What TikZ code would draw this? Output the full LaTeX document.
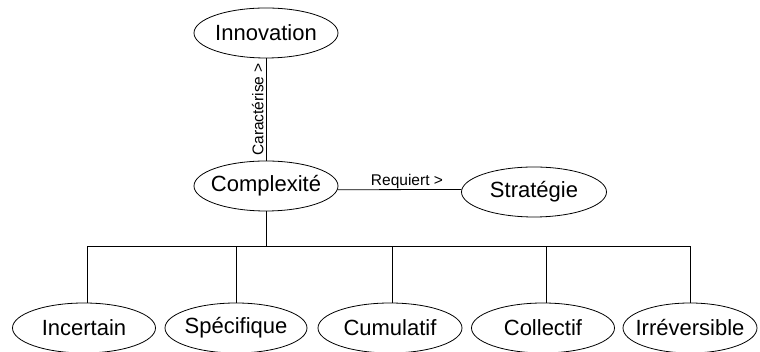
\documentclass[tikz,border=0pt]{standalone}
\usepackage{fontspec}
\setmainfont{Liberation Sans}
\usetikzlibrary{shapes.geometric}
\tikzset{
  concept/.style={draw, ellipse, line width=0.8pt, inner ysep=0pt, inner xsep=-12pt,
    minimum width=143pt, minimum height=50pt,
    font=\fontsize{22}{26}\selectfont},
  link/.style={line width=0.8pt},
  lbl/.style={font=\fontsize{15.5}{18}\selectfont, inner sep=1pt}
}
\begin{document}
\begin{tikzpicture}[x=1pt,y=1pt]
\useasboundingbox (0,0) rectangle (760,352);
\node[concept, minimum width=144pt] (inn) at (266,319) {Innovation};
\node[concept, minimum width=144pt] (comp) at (266,166) {Complexité};
\node[concept, minimum width=145pt] (strat) at (534,160) {Stratégie};
\node[concept] (inc) at (84,24) {Incertain};
\node[concept, minimum width=142pt] (spe) at (236,24) {Spécifique};
\node[concept, minimum width=144pt] (cum) at (390,24) {Cumulatif};
\node[concept] (col) at (543,24) {Collectif};
\node[concept, minimum width=134pt] (irr) at (690,24) {Irréversible};
\coordinate (bar) at (266,106);
\draw[link] (comp) -- node[sloped, above, lbl, inner sep=2pt]{Caractérise >} (inn);
\draw[link] (comp.-3) -- node[pos=0.56, above, lbl, inner sep=0pt]{Requiert >} (strat.178.5);
\draw[link] (comp.south) -- (bar);
\draw[link] (inc.north) ++(3,0) coordinate (incTop) -- (incTop |- bar) -- (irr.north |- bar) -- (irr.north);
\draw[link] (spe.north) -- (spe.north |- bar);
\draw[link] (cum.north) ++(2,0) coordinate (cumTop) -- (cumTop |- bar);
\draw[link] (col.north) ++(3,0) coordinate (colTop) -- (colTop |- bar);
\end{tikzpicture}
\end{document}
